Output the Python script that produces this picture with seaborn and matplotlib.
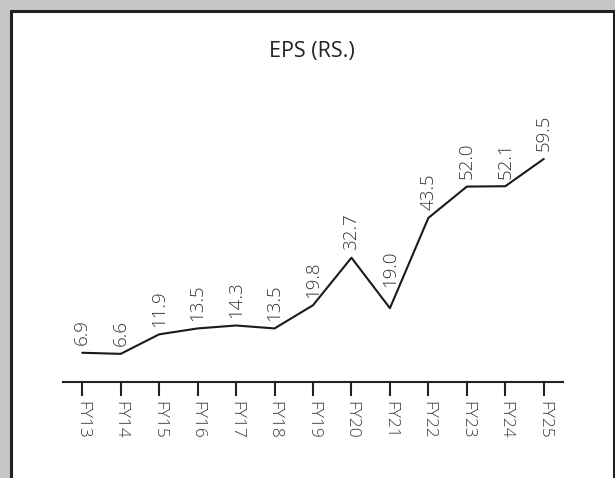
import matplotlib
matplotlib.use("Agg")
import matplotlib.pyplot as plt
import seaborn as sns
import pandas as pd
from matplotlib.patches import Rectangle

years = ["FY13", "FY14", "FY15", "FY16", "FY17", "FY18", "FY19",
         "FY20", "FY21", "FY22", "FY23", "FY24", "FY25"]
eps = [6.9, 6.6, 11.9, 13.5, 14.3, 13.5, 19.8, 32.7, 19.0, 43.5, 52.0, 52.1, 59.5]
value_labels = ["6.9", "6.6", "11.9", "13.5", "14.3", "13.5", "19.8",
                "32.7", "19.0", "43.5", "52.0", "52.1", "59.5"]
title = "EPS (RS.)"

sns.set_theme(style="white")
plt.rcParams["font.family"] = ["Open Sans", "DejaVu Sans"]

W, H = 615, 478
fig = plt.figure(figsize=(W / 100, H / 100), dpi=100)
fig.patch.set_facecolor("#c6c6c6")

# white panel with dark border
panel = Rectangle((10.5 / W, -20 / H), (613.5 - 10.5) / W, (H - 10.5 + 20) / H,
                  transform=fig.transFigure, facecolor="white",
                  edgecolor="#222222", linewidth=2.2, zorder=-10)
fig.patches.append(panel)

ax_left, ax_right = 63, 563
ax_bottom, ax_top = 381.5, 100
ax = fig.add_axes([ax_left / W, (H - ax_bottom) / H,
                   (ax_right - ax_left) / W, (ax_bottom - ax_top) / H])
ax.set_facecolor("none")
ax.set_zorder(5)

df = pd.DataFrame({"year": years, "eps": eps})
sns.lineplot(data=df, x="year", y="eps", sort=False, color="#1a1a1a",
             linewidth=1.5, ax=ax)

ax.set_xlim(-0.5, len(years) - 0.5)
ax.set_ylim(-0.9, 75.5)

# label gap in points; the dip label is lifted to clear the rising line
label_gap = {"FY21": 15}
for i, (yr, v, lab) in enumerate(zip(years, eps, value_labels)):
    ax.annotate(lab, (i, v), xytext=(0, label_gap.get(yr, 5.5)),
                textcoords="offset points", rotation=90, ha="center",
                va="bottom", fontsize=13.5, fontweight="light",
                color="#333333")

for s in ["top", "right", "left"]:
    ax.spines[s].set_visible(False)
ax.spines["bottom"].set_color("#222222")
ax.spines["bottom"].set_linewidth(1.5)
ax.set_yticks([])
ax.set_xticks(range(len(years)))
ax.set_xticklabels(years, rotation=270, fontsize=12.5, fontweight="light",
                   color="#3a3a3a")
ax.tick_params(axis="x", direction="out", length=10, width=1.5,
               color="#222222", pad=4, bottom=True)
ax.set_xlabel("")
ax.set_ylabel("")

fig.text(312 / W, 1 - 52 / H, title, ha="center", va="center",
         fontsize=15.5, color="#222222", zorder=6)

fig.savefig("out.png", dpi=100, facecolor=fig.get_facecolor())
